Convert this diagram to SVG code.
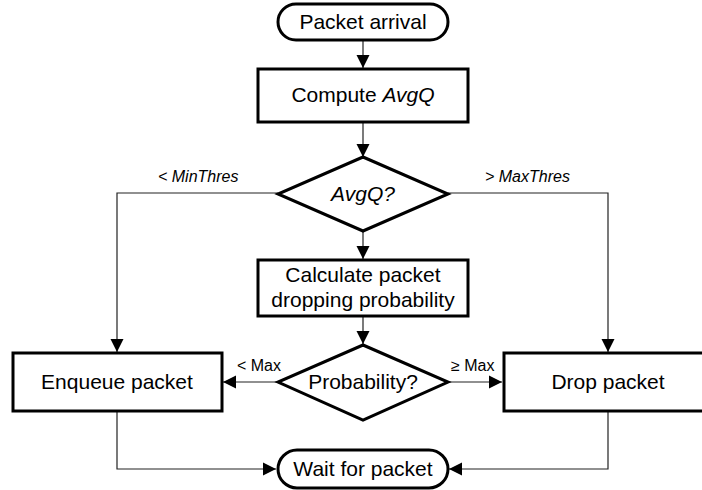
<svg xmlns="http://www.w3.org/2000/svg" width="702" height="490" viewBox="0 0 702 490">
<style>
.shape{fill:#fff;stroke:#000;stroke-width:3}
.t{font-family:"Liberation Sans",Arial,sans-serif;font-size:21px;fill:#000;text-anchor:middle}
.l{font-family:"Liberation Sans",Arial,sans-serif;font-size:16px;fill:#000}
.c{fill:none;stroke:#222;stroke-width:1.2}
</style>
<defs>
<marker id="ah" markerUnits="userSpaceOnUse" markerWidth="14" markerHeight="14" viewBox="0 0 14 14" refX="13" refY="7" orient="auto">
<path d="M0,0.5 L13,7 L0,13.5 Z" fill="#000"/>
</marker>
</defs>
<rect width="702" height="490" fill="#fff"/>
<g id="connectors">
<path class="c" d="M363,40 V68" marker-end="url(#ah)"/>
<path class="c" d="M363,122 V157" marker-end="url(#ah)"/>
<path class="c" d="M363,231 V259" marker-end="url(#ah)"/>
<path class="c" d="M363,317 V344" marker-end="url(#ah)"/>
<path class="c" d="M278,193 H117 V352" marker-end="url(#ah)"/>
<path class="c" d="M448,193 H608 V352" marker-end="url(#ah)"/>
<path class="c" d="M277,382 H223" marker-end="url(#ah)"/>
<path class="c" d="M448,382 H502" marker-end="url(#ah)"/>
<path class="c" d="M117,411 V469 H276" marker-end="url(#ah)"/>
<path class="c" d="M608,411 V469 H449" marker-end="url(#ah)"/>
<text class="l" x="158" y="182" font-style="italic">&lt; MinThres</text>
<text class="l" x="485" y="182" font-style="italic">&gt; MaxThres</text>
<text class="l" x="237" y="371">&lt; Max</text>
<text class="l" x="451" y="371">≥ Max</text>
</g>
<g id="packet-arrival">
<rect class="shape" x="278" y="4" width="170" height="36" rx="18" ry="18"/>
<text class="t" x="363" y="29">Packet arrival</text>
</g>
<g id="compute-avgq">
<rect class="shape" x="258" y="69" width="210" height="53"/>
<text class="t" x="363" y="102">Compute <tspan font-style="italic">AvgQ</tspan></text>
</g>
<g id="avgq-decision">
<polygon class="shape" points="363,157 448,194 363,231 278,194"/>
<text class="t" x="363" y="201" font-style="italic">AvgQ?</text>
</g>
<g id="calculate">
<rect class="shape" x="258" y="260" width="210" height="56"/>
<text class="t" x="363" y="282">Calculate packet</text>
<text class="t" x="363" y="307">dropping probability</text>
</g>
<g id="probability-decision">
<polygon class="shape" points="363,345 448,382 363,420 278,382"/>
<text class="t" x="363" y="389">Probability?</text>
</g>
<g id="enqueue">
<rect class="shape" x="13" y="353" width="209" height="58"/>
<text class="t" x="117" y="389">Enqueue packet</text>
</g>
<g id="drop">
<rect class="shape" x="504" y="353" width="209" height="58"/>
<text class="t" x="608" y="389">Drop packet</text>
</g>
<g id="wait">
<rect class="shape" x="278" y="450" width="170" height="38" rx="19" ry="19"/>
<text class="t" x="363" y="476">Wait for packet</text>
</g>
</svg>
